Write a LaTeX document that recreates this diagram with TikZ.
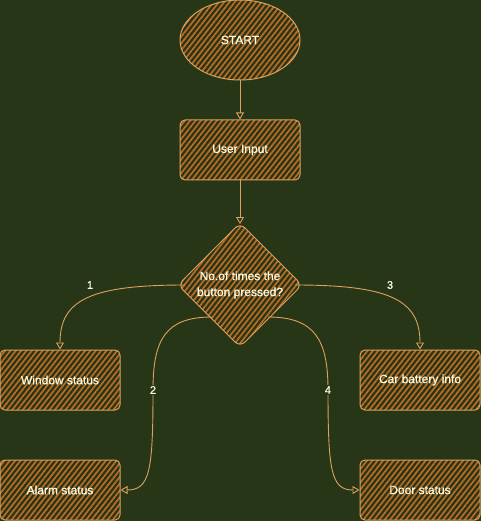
\documentclass[tikz,border=0pt]{standalone}
\usepackage{fontspec}
\setmainfont{Liberation Sans}
\newfontfamily\heavyfont[FakeBold=0.6]{Liberation Sans}
\usetikzlibrary{shapes.geometric,patterns.meta,arrows.meta}
\definecolor{bg}{HTML}{283618}
\definecolor{strk}{HTML}{DDA15E}
\definecolor{hatch}{HTML}{BC6C25}
\definecolor{txt}{HTML}{FEFAE0}
\tikzset{
  hatched/.style={pattern={Lines[angle=52,distance=4.2pt,line width=1.7pt]},pattern color=hatch},
  shapeline/.style={draw=strk,line width=1pt},
  boxnode/.style={hatched,shapeline,rounded corners=5pt,minimum width=120pt,minimum height=60pt,inner sep=0pt,text=txt,font=\heavyfont\fontsize{12pt}{14pt}\selectfont},
  conn/.style={draw=strk,line width=0.9pt,-{Triangle[open,length=7pt,width=8pt]}},
  lbl/.style={text=txt,font=\heavyfont\fontsize{11pt}{13pt}\selectfont,fill=bg,inner sep=1pt}
}
\begin{document}
\begin{tikzpicture}[x=1pt,y=-1pt]
\useasboundingbox[fill=bg] (0,0) rectangle (481,521);
% start
\node[ellipse,hatched,shapeline,minimum width=120pt,minimum height=80pt,inner sep=0pt,text=txt,font=\heavyfont\fontsize{12pt}{14pt}\selectfont] (start) at (240,40) {START};
\node[boxnode] (input) at (240,150) {User Input};
% diamond
\coordinate (dc) at (240,285);
\path[hatched,shapeline,rounded corners=7pt] (240,223) -- (302,285) -- (240,347) -- (178,285) -- cycle;
\node[text=txt,align=center,font=\heavyfont\fontsize{12pt}{16pt}\selectfont,inner sep=0pt] (dec) at (240,285) {No.of times the\\button pressed?};
\coordinate (dtop) at (240,224);
\coordinate (dleft) at (185,285);
\coordinate (dright) at (295,285);
\coordinate (dbl) at (212,317);
\coordinate (dbr) at (268,317);
% boxes
\node[boxnode] (window) at (60,380) {Window status};
\node[boxnode] (alarm) at (60,490) {Alarm status};
\node[boxnode] (battery) at (420,380) {Car battery info};
\node[boxnode] (door) at (420,490) {Door status};
% connectors
\draw[conn] (start.south) -- (input.north);
\draw[conn] (input.south) -- (dtop);
\draw[conn] (dleft) .. controls (90,285) and (60,300) .. (window.north);
\draw[conn] (dright) .. controls (390,285) and (420,300) .. (battery.north);
\draw[conn] (dbl) .. controls (165,317) and (153,340) .. (153,390) .. controls (153,470) and (150,490) .. (alarm.east);
\draw[conn] (dbr) .. controls (315,317) and (328,340) .. (328,390) .. controls (328,470) and (331,490) .. (door.west);
% labels
\node[text=txt,font=\heavyfont\fontsize{11pt}{13pt}\selectfont] (l1) at (90,285) {1};
\node[text=txt,font=\heavyfont\fontsize{11pt}{13pt}\selectfont] (l3) at (390,285) {3};
\node[lbl] (l2) at (153,390) {2};
\node[lbl] (l4) at (328,390) {4};
\end{tikzpicture}
\end{document}
